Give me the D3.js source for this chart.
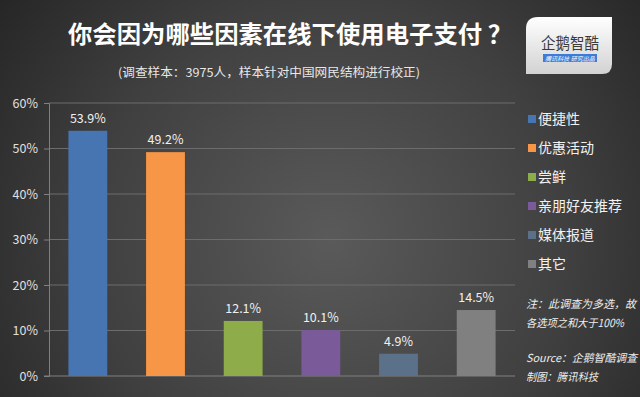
<!DOCTYPE html>
<html><head><meta charset="utf-8">
<script src="https://cdn.jsdelivr.net/npm/d3@7/dist/d3.min.js"></script>
<style>html,body{margin:0;padding:0;background:#2a2a2a;}svg{display:block;}</style>
</head><body>
<script>
const categories = ["便捷性","优惠活动","尝鲜","亲朋好友推荐","媒体报道","其它"];
const values = [53.9,49.2,12.1,10.1,4.9,14.5];
const colors = ["#4775b2","#f79646","#8fac4a","#7a5a99","#5b7189","#808080"];
const yTicks = [0,10,20,30,40,50,60];
const title = "你会因为哪些因素在线下使用电子支付 ？";
const subtitle = "(调查样本：3975人，样本针对中国网民结构进行校正)";
const notes = ["注：此调查为多选，故","各选项之和大于100%"];
const notesLen = [110,98];
const sources = ["Source：企鹅智酷调查","制图：腾讯科技"];
const sourcesLen = [111,72];

const W=640,H=397;
const font = "'Noto Sans CJK SC','Noto Sans',sans-serif";
const svg = d3.select("body").append("svg").attr("width",W).attr("height",H).style("font-family",font);
const defs = svg.append("defs");
const rg = defs.append("radialGradient").attr("id","bg").attr("gradientUnits","userSpaceOnUse")
  .attr("cx",330).attr("cy",240).attr("r",430);
rg.append("stop").attr("offset","0").attr("stop-color","#5a5a5a");
rg.append("stop").attr("offset","0.55").attr("stop-color","#404040");
rg.append("stop").attr("offset","1").attr("stop-color","#232323");
svg.append("rect").attr("width",W).attr("height",H).attr("fill","url(#bg)");

// title
svg.append("text").attr("x",290).attr("y",43).attr("text-anchor","middle")
  .attr("fill","#ffffff").attr("font-size",24).attr("font-weight","bold")
  .attr("textLength",444).attr("lengthAdjust","spacingAndGlyphs").text(title);
svg.append("text").attr("x",269).attr("y",77).attr("text-anchor","middle")
  .attr("fill","#e8e8e8").attr("font-size",12)
  .attr("textLength",302).attr("lengthAdjust","spacingAndGlyphs").text(subtitle);

// logo
const lg = defs.append("linearGradient").attr("id","lg").attr("x1",0).attr("y1",0).attr("x2",0).attr("y2",1);
lg.append("stop").attr("offset","0").attr("stop-color","#ffffff");
lg.append("stop").attr("offset","1").attr("stop-color","#d2d2d2");
const logo = svg.append("g");
logo.append("path").attr("d","M538,17 L612,17 L612,64 Q612,74 602,74 L526,74 L526,29 Q526,17 538,17 Z").attr("fill","url(#lg)");
logo.append("text").attr("x",570).attr("y",49).attr("text-anchor","middle").attr("fill","#3a3a3a")
  .attr("font-size",16).attr("textLength",58).attr("lengthAdjust","spacingAndGlyphs").text("企鹅智酷");
logo.append("rect").attr("x",543).attr("y",54).attr("width",54).attr("height",8).attr("fill","#3d7bd6");
logo.append("text").attr("x",570).attr("y",60.5).attr("text-anchor","middle").attr("fill","#ffffff")
  .attr("font-size",6).attr("font-style","italic").text("腾讯科技  研究出品");

// scales
const x = d3.scaleBand().domain(categories).range([49,515]).paddingInner(0.5).paddingOuter(0.25);
const y = d3.scaleLinear().domain([0,60]).range([376,103]);

// grid
svg.append("g").selectAll("line").data(yTicks.filter(d=>d>0)).join("line")
  .attr("x1",49).attr("x2",515).attr("y1",d=>y(d)).attr("y2",d=>y(d))
  .attr("stroke","#6c6c6c").attr("stroke-width",1);

// axis
const yAxis = svg.append("g").attr("transform","translate(49,0)")
  .call(d3.axisLeft(y).tickValues(yTicks).tickFormat(d=>d+"%").tickSize(5).tickPadding(6));
yAxis.select(".domain").attr("stroke","#808080");
yAxis.selectAll(".tick line").attr("stroke","#808080");
yAxis.selectAll(".tick text").attr("fill","#e0e0e0").attr("font-size",12.5).attr("font-family",font);
svg.append("line").attr("x1",44).attr("x2",515).attr("y1",y(0)).attr("y2",y(0)).attr("stroke","#808080");

// bars
svg.append("g").selectAll("rect").data(values).join("rect")
  .attr("x",(d,i)=>x(categories[i])).attr("width",x.bandwidth())
  .attr("y",d=>y(d)).attr("height",d=>y(0)-y(d)).attr("fill",(d,i)=>colors[i]);
svg.append("g").selectAll("text").data(values).join("text")
  .attr("x",(d,i)=>x(categories[i])+x.bandwidth()/2).attr("y",d=>y(d)-8)
  .attr("text-anchor","middle").attr("fill","#f0f0f0").attr("font-size",12.5).text(d=>d.toFixed(1)+"%");

// legend
const leg = svg.append("g").selectAll("g").data(categories).join("g")
  .attr("transform",(d,i)=>`translate(528,${119+i*29})`);
leg.append("rect").attr("x",0).attr("y",-4).attr("width",8).attr("height",8).attr("fill",(d,i)=>colors[i]);
leg.append("text").attr("x",10).attr("y",5).attr("fill","#f2f2f2").attr("font-size",14).text(d=>d);

// notes
svg.append("g").selectAll("text").data(notes).join("text")
  .attr("x",526).attr("y",(d,i)=>308+i*19).attr("fill","#eeeeee").attr("font-size",11)
  .attr("font-style","italic").attr("textLength",(d,i)=>notesLen[i]).attr("lengthAdjust","spacingAndGlyphs").text(d=>d);
svg.append("g").selectAll("text").data(sources).join("text")
  .attr("x",526).attr("y",(d,i)=>362+i*19).attr("fill","#eeeeee").attr("font-size",11)
  .attr("font-style","italic").attr("textLength",(d,i)=>sourcesLen[i]).attr("lengthAdjust","spacingAndGlyphs").text(d=>d);
</script>
</body></html>
